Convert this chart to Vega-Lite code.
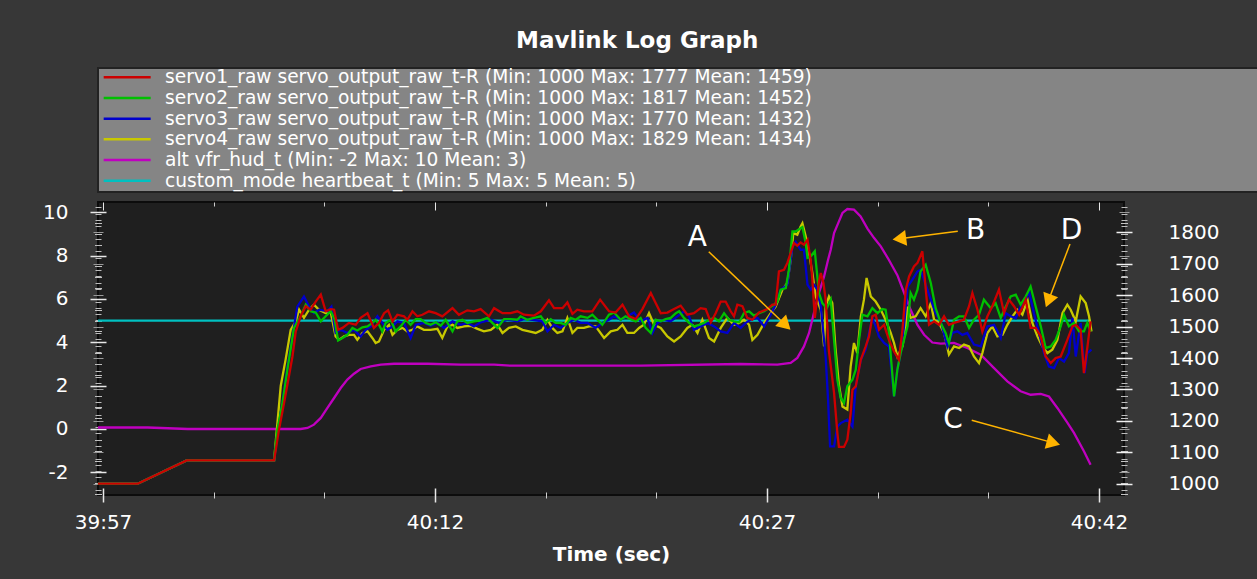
{
  "$schema": "https://vega.github.io/schema/vega-lite/v6.json",
  "background": "#373737",
  "autosize": {"type": "pad"},
  "padding": {"left": 41, "top": 30, "right": 0, "bottom": 14},
  "title": {
    "text": "Mavlink Log Graph",
    "color": "#ffffff",
    "font": "DejaVu Sans",
    "fontSize": 23,
    "fontWeight": "bold",
    "anchor": "middle",
    "dx": -13,
    "offset": -4,
    "baseline": "alphabetic"
  },
  "config": {
    "font": "DejaVu Sans",
    "view": {"stroke": null},
    "axis": {
      "grid": false,
      "domain": false,
      "labelColor": "#ffffff",
      "titleColor": "#ffffff",
      "labelFont": "DejaVu Sans",
      "titleFont": "DejaVu Sans",
      "tickColor": "#d8d8d8"
    }
  },
  "bounds": "flush",
  "spacing": 10,
  "datasets": {
    "series": [
      {"name": "servo1_raw servo_output_raw_t-R (Min: 1000 Max: 1777 Mean: 1459)"},
      {"name": "servo2_raw servo_output_raw_t-R (Min: 1000 Max: 1817 Mean: 1452)"},
      {"name": "servo3_raw servo_output_raw_t-R (Min: 1000 Max: 1770 Mean: 1432)"},
      {"name": "servo4_raw servo_output_raw_t-R (Min: 1000 Max: 1829 Mean: 1434)"},
      {"name": "alt vfr_hud_t (Min: -2 Max: 10 Mean: 3)"},
      {"name": "custom_mode heartbeat_t (Min: 5 Max: 5 Mean: 5)"}
    ],
    "servo1": [
      {"sec":-0.23,"pwm":1000},{"sec":1.57,"pwm":1000},{"sec":3.78,"pwm":1074},{"sec":7.73,"pwm":1074},
      {"sec":7.95,"pwm":1172},{"sec":8.18,"pwm":1257},{"sec":8.40,"pwm":1342},{"sec":8.56,"pwm":1405},
      {"sec":8.71,"pwm":1485},{"sec":8.93,"pwm":1533},{"sec":9.16,"pwm":1565},{"sec":9.38,"pwm":1554},
      {"sec":9.61,"pwm":1580},{"sec":9.84,"pwm":1602},{"sec":10.06,"pwm":1549},{"sec":10.29,"pwm":1556},
      {"sec":10.44,"pwm":1554},{"sec":10.62,"pwm":1490},{"sec":10.82,"pwm":1496},{"sec":11.11,"pwm":1512},
      {"sec":11.42,"pwm":1506},{"sec":11.64,"pwm":1528},{"sec":11.95,"pwm":1543},{"sec":12.24,"pwm":1496},
      {"sec":12.47,"pwm":1512},{"sec":12.70,"pwm":1543},{"sec":12.88,"pwm":1552},{"sec":13.08,"pwm":1517},
      {"sec":13.30,"pwm":1538},{"sec":13.60,"pwm":1533},{"sec":13.75,"pwm":1522},{"sec":13.98,"pwm":1549},
      {"sec":14.20,"pwm":1533},{"sec":14.43,"pwm":1538},{"sec":14.73,"pwm":1549},{"sec":15.03,"pwm":1543},
      {"sec":15.33,"pwm":1533},{"sec":15.79,"pwm":1559},{"sec":16.08,"pwm":1538},{"sec":16.46,"pwm":1552},
      {"sec":16.76,"pwm":1549},{"sec":17.06,"pwm":1556},{"sec":17.44,"pwm":1533},{"sec":17.67,"pwm":1559},
      {"sec":18.05,"pwm":1543},{"sec":18.42,"pwm":1543},{"sec":18.72,"pwm":1549},{"sec":19.02,"pwm":1538},
      {"sec":19.47,"pwm":1535},{"sec":19.78,"pwm":1549},{"sec":20.15,"pwm":1584},{"sec":20.38,"pwm":1559},
      {"sec":20.76,"pwm":1559},{"sec":20.98,"pwm":1577},{"sec":21.21,"pwm":1541},{"sec":21.43,"pwm":1554},
      {"sec":21.73,"pwm":1549},{"sec":22.11,"pwm":1549},{"sec":22.46,"pwm":1586},{"sec":22.86,"pwm":1549},
      {"sec":23.16,"pwm":1545},{"sec":23.47,"pwm":1570},{"sec":23.77,"pwm":1533},{"sec":24.07,"pwm":1524},
      {"sec":24.37,"pwm":1556},{"sec":24.75,"pwm":1607},{"sec":24.97,"pwm":1575},{"sec":25.20,"pwm":1543},
      {"sec":25.50,"pwm":1545},{"sec":25.80,"pwm":1556},{"sec":26.10,"pwm":1567},{"sec":26.40,"pwm":1538},
      {"sec":26.70,"pwm":1543},{"sec":27.00,"pwm":1559},{"sec":27.23,"pwm":1556},{"sec":27.46,"pwm":1514},
      {"sec":27.68,"pwm":1543},{"sec":27.91,"pwm":1580},{"sec":28.13,"pwm":1580},{"sec":28.36,"pwm":1549},
      {"sec":28.51,"pwm":1533},{"sec":28.66,"pwm":1570},{"sec":28.89,"pwm":1565},{"sec":29.11,"pwm":1528},
      {"sec":29.34,"pwm":1522},{"sec":29.64,"pwm":1545},{"sec":30.02,"pwm":1556},{"sec":30.24,"pwm":1570},
      {"sec":30.39,"pwm":1570},{"sec":30.54,"pwm":1676},{"sec":30.77,"pwm":1681},{"sec":30.92,"pwm":1703},
      {"sec":31.07,"pwm":1735},{"sec":31.22,"pwm":1766},{"sec":31.37,"pwm":1758},{"sec":31.52,"pwm":1768},
      {"sec":31.67,"pwm":1761},{"sec":31.83,"pwm":1777},{"sec":31.98,"pwm":1708},{"sec":32.05,"pwm":1650},
      {"sec":32.16,"pwm":1528},{"sec":32.35,"pwm":1644},{"sec":32.43,"pwm":1671},{"sec":32.55,"pwm":1639},
      {"sec":32.65,"pwm":1586},{"sec":32.80,"pwm":1421},{"sec":33.03,"pwm":1289},{"sec":33.18,"pwm":1161},
      {"sec":33.25,"pwm":1117},{"sec":33.48,"pwm":1117},{"sec":33.63,"pwm":1140},{"sec":33.78,"pwm":1225},
      {"sec":33.86,"pwm":1299},{"sec":34.01,"pwm":1310},{"sec":34.24,"pwm":1395},{"sec":34.46,"pwm":1437},
      {"sec":34.61,"pwm":1469},{"sec":34.76,"pwm":1533},{"sec":34.91,"pwm":1538},{"sec":35.06,"pwm":1490},
      {"sec":35.29,"pwm":1506},{"sec":35.51,"pwm":1458},{"sec":35.74,"pwm":1421},{"sec":35.96,"pwm":1395},
      {"sec":36.12,"pwm":1490},{"sec":36.27,"pwm":1618},{"sec":36.42,"pwm":1660},{"sec":36.64,"pwm":1692},
      {"sec":36.80,"pwm":1703},{"sec":37.02,"pwm":1740},{"sec":37.10,"pwm":1676},{"sec":37.32,"pwm":1506},
      {"sec":37.55,"pwm":1517},{"sec":37.77,"pwm":1506},{"sec":38.00,"pwm":1533},{"sec":38.22,"pwm":1506},
      {"sec":38.45,"pwm":1512},{"sec":38.68,"pwm":1517},{"sec":38.90,"pwm":1522},{"sec":39.13,"pwm":1565},
      {"sec":39.28,"pwm":1607},{"sec":39.51,"pwm":1554},{"sec":39.73,"pwm":1485},{"sec":39.96,"pwm":1533},
      {"sec":40.18,"pwm":1565},{"sec":40.48,"pwm":1618},{"sec":40.71,"pwm":1543},{"sec":40.93,"pwm":1586},
      {"sec":41.16,"pwm":1565},{"sec":41.39,"pwm":1538},{"sec":41.69,"pwm":1586},{"sec":41.91,"pwm":1496},
      {"sec":42.14,"pwm":1496},{"sec":42.37,"pwm":1469},{"sec":42.59,"pwm":1405},{"sec":42.82,"pwm":1384},
      {"sec":43.04,"pwm":1400},{"sec":43.27,"pwm":1405},{"sec":43.57,"pwm":1458},{"sec":43.80,"pwm":1501},
      {"sec":43.95,"pwm":1506},{"sec":44.17,"pwm":1490},{"sec":44.32,"pwm":1352},{"sec":44.47,"pwm":1432},
      {"sec":44.62,"pwm":1517}
    ],
    "servo2": [
      {"sec":-0.23,"pwm":1000},{"sec":1.57,"pwm":1000},{"sec":3.78,"pwm":1074},{"sec":7.73,"pwm":1074},
      {"sec":7.88,"pwm":1172},{"sec":8.11,"pwm":1257},{"sec":8.33,"pwm":1363},{"sec":8.63,"pwm":1496},
      {"sec":8.93,"pwm":1533},{"sec":9.16,"pwm":1570},{"sec":9.38,"pwm":1549},{"sec":9.61,"pwm":1545},
      {"sec":9.84,"pwm":1517},{"sec":10.06,"pwm":1533},{"sec":10.29,"pwm":1549},{"sec":10.47,"pwm":1522},
      {"sec":10.62,"pwm":1456},{"sec":10.82,"pwm":1464},{"sec":11.04,"pwm":1474},{"sec":11.27,"pwm":1496},
      {"sec":11.49,"pwm":1488},{"sec":11.72,"pwm":1498},{"sec":11.95,"pwm":1501},{"sec":12.17,"pwm":1512},
      {"sec":12.32,"pwm":1522},{"sec":12.47,"pwm":1506},{"sec":12.62,"pwm":1485},{"sec":12.77,"pwm":1512},
      {"sec":13.00,"pwm":1522},{"sec":13.22,"pwm":1485},{"sec":13.45,"pwm":1501},{"sec":13.68,"pwm":1522},
      {"sec":13.90,"pwm":1506},{"sec":14.13,"pwm":1524},{"sec":14.35,"pwm":1524},{"sec":14.58,"pwm":1512},
      {"sec":14.80,"pwm":1506},{"sec":15.03,"pwm":1514},{"sec":15.26,"pwm":1503},{"sec":15.48,"pwm":1522},
      {"sec":15.79,"pwm":1485},{"sec":16.01,"pwm":1517},{"sec":16.24,"pwm":1522},{"sec":16.46,"pwm":1512},
      {"sec":16.76,"pwm":1517},{"sec":17.06,"pwm":1520},{"sec":17.37,"pwm":1528},{"sec":17.59,"pwm":1512},
      {"sec":17.82,"pwm":1496},{"sec":18.12,"pwm":1524},{"sec":18.42,"pwm":1524},{"sec":18.72,"pwm":1522},
      {"sec":18.87,"pwm":1533},{"sec":19.17,"pwm":1522},{"sec":19.47,"pwm":1528},{"sec":19.78,"pwm":1533},
      {"sec":20.00,"pwm":1512},{"sec":20.23,"pwm":1524},{"sec":20.45,"pwm":1512},{"sec":20.68,"pwm":1512},
      {"sec":20.91,"pwm":1506},{"sec":21.13,"pwm":1528},{"sec":21.36,"pwm":1522},{"sec":21.58,"pwm":1533},
      {"sec":21.89,"pwm":1528},{"sec":22.11,"pwm":1538},{"sec":22.34,"pwm":1522},{"sec":22.56,"pwm":1506},
      {"sec":22.86,"pwm":1538},{"sec":23.09,"pwm":1545},{"sec":23.39,"pwm":1522},{"sec":23.61,"pwm":1533},
      {"sec":23.84,"pwm":1524},{"sec":24.07,"pwm":1517},{"sec":24.29,"pwm":1528},{"sec":24.52,"pwm":1496},
      {"sec":24.75,"pwm":1480},{"sec":24.97,"pwm":1522},{"sec":25.20,"pwm":1517},{"sec":25.42,"pwm":1524},
      {"sec":25.65,"pwm":1528},{"sec":25.88,"pwm":1543},{"sec":26.03,"pwm":1549},{"sec":26.25,"pwm":1528},
      {"sec":26.48,"pwm":1512},{"sec":26.70,"pwm":1501},{"sec":26.93,"pwm":1506},{"sec":27.15,"pwm":1512},
      {"sec":27.38,"pwm":1522},{"sec":27.61,"pwm":1528},{"sec":27.83,"pwm":1517},{"sec":28.06,"pwm":1543},
      {"sec":28.28,"pwm":1522},{"sec":28.51,"pwm":1517},{"sec":28.74,"pwm":1514},{"sec":28.96,"pwm":1543},
      {"sec":29.19,"pwm":1549},{"sec":29.41,"pwm":1535},{"sec":29.64,"pwm":1543},{"sec":29.87,"pwm":1549},
      {"sec":30.09,"pwm":1559},{"sec":30.32,"pwm":1570},{"sec":30.47,"pwm":1580},{"sec":30.62,"pwm":1618},
      {"sec":30.85,"pwm":1623},{"sec":30.99,"pwm":1681},{"sec":31.15,"pwm":1803},{"sec":31.30,"pwm":1803},
      {"sec":31.45,"pwm":1810},{"sec":31.60,"pwm":1817},{"sec":31.75,"pwm":1766},{"sec":31.83,"pwm":1719},
      {"sec":31.98,"pwm":1724},{"sec":32.16,"pwm":1740},{"sec":32.35,"pwm":1607},{"sec":32.50,"pwm":1575},
      {"sec":32.70,"pwm":1559},{"sec":32.88,"pwm":1586},{"sec":33.03,"pwm":1458},{"sec":33.18,"pwm":1331},
      {"sec":33.33,"pwm":1273},{"sec":33.48,"pwm":1257},{"sec":33.63,"pwm":1310},{"sec":33.86,"pwm":1331},
      {"sec":34.01,"pwm":1363},{"sec":34.16,"pwm":1458},{"sec":34.31,"pwm":1538},{"sec":34.54,"pwm":1533},
      {"sec":34.76,"pwm":1559},{"sec":34.99,"pwm":1543},{"sec":35.21,"pwm":1556},{"sec":35.36,"pwm":1554},
      {"sec":35.51,"pwm":1480},{"sec":35.67,"pwm":1342},{"sec":35.74,"pwm":1278},{"sec":35.89,"pwm":1363},
      {"sec":36.04,"pwm":1416},{"sec":36.19,"pwm":1458},{"sec":36.35,"pwm":1501},{"sec":36.49,"pwm":1607},
      {"sec":36.64,"pwm":1586},{"sec":36.80,"pwm":1618},{"sec":36.94,"pwm":1676},{"sec":37.17,"pwm":1697},
      {"sec":37.40,"pwm":1639},{"sec":37.62,"pwm":1559},{"sec":37.85,"pwm":1512},{"sec":38.07,"pwm":1480},
      {"sec":38.22,"pwm":1448},{"sec":38.45,"pwm":1522},{"sec":38.68,"pwm":1533},{"sec":38.90,"pwm":1533},
      {"sec":39.13,"pwm":1496},{"sec":39.35,"pwm":1522},{"sec":39.58,"pwm":1538},{"sec":39.80,"pwm":1586},
      {"sec":40.11,"pwm":1559},{"sec":40.33,"pwm":1575},{"sec":40.56,"pwm":1528},{"sec":40.79,"pwm":1564},
      {"sec":41.01,"pwm":1596},{"sec":41.24,"pwm":1602},{"sec":41.46,"pwm":1570},{"sec":41.69,"pwm":1596},
      {"sec":41.91,"pwm":1628},{"sec":42.14,"pwm":1564},{"sec":42.37,"pwm":1501},{"sec":42.59,"pwm":1432},
      {"sec":42.82,"pwm":1437},{"sec":43.04,"pwm":1458},{"sec":43.27,"pwm":1501},{"sec":43.42,"pwm":1538},
      {"sec":43.64,"pwm":1501},{"sec":43.87,"pwm":1512},{"sec":44.10,"pwm":1485},{"sec":44.32,"pwm":1485},
      {"sec":44.47,"pwm":1512},{"sec":44.62,"pwm":1485}
    ],
    "servo3": [
      {"sec":-0.23,"pwm":1000},{"sec":1.57,"pwm":1000},{"sec":3.78,"pwm":1074},{"sec":7.73,"pwm":1074},
      {"sec":7.88,"pwm":1160},{"sec":8.11,"pwm":1260},{"sec":8.33,"pwm":1370},{"sec":8.56,"pwm":1469},
      {"sec":8.78,"pwm":1564},{"sec":9.08,"pwm":1596},{"sec":9.31,"pwm":1564},{"sec":9.53,"pwm":1543},
      {"sec":9.76,"pwm":1554},{"sec":10.14,"pwm":1549},{"sec":10.32,"pwm":1564},{"sec":10.51,"pwm":1480},
      {"sec":10.74,"pwm":1490},{"sec":11.04,"pwm":1480},{"sec":11.34,"pwm":1490},{"sec":11.64,"pwm":1469},
      {"sec":11.87,"pwm":1490},{"sec":12.10,"pwm":1501},{"sec":12.40,"pwm":1533},{"sec":12.62,"pwm":1512},
      {"sec":12.85,"pwm":1490},{"sec":13.08,"pwm":1501},{"sec":13.30,"pwm":1517},{"sec":13.60,"pwm":1512},
      {"sec":13.90,"pwm":1464},{"sec":14.13,"pwm":1506},{"sec":14.50,"pwm":1512},{"sec":14.80,"pwm":1503},
      {"sec":15.11,"pwm":1512},{"sec":15.41,"pwm":1496},{"sec":15.79,"pwm":1517},{"sec":16.16,"pwm":1506},
      {"sec":16.46,"pwm":1512},{"sec":16.76,"pwm":1501},{"sec":17.06,"pwm":1514},{"sec":17.52,"pwm":1522},
      {"sec":17.89,"pwm":1512},{"sec":18.27,"pwm":1522},{"sec":18.72,"pwm":1517},{"sec":19.02,"pwm":1524},
      {"sec":19.40,"pwm":1522},{"sec":19.85,"pwm":1517},{"sec":20.08,"pwm":1485},{"sec":20.38,"pwm":1506},
      {"sec":20.68,"pwm":1496},{"sec":20.98,"pwm":1512},{"sec":21.28,"pwm":1522},{"sec":21.58,"pwm":1512},
      {"sec":21.89,"pwm":1512},{"sec":22.26,"pwm":1496},{"sec":22.56,"pwm":1512},{"sec":22.86,"pwm":1522},
      {"sec":23.09,"pwm":1533},{"sec":23.39,"pwm":1522},{"sec":23.69,"pwm":1533},{"sec":23.99,"pwm":1545},
      {"sec":24.29,"pwm":1517},{"sec":24.60,"pwm":1528},{"sec":24.82,"pwm":1480},{"sec":25.05,"pwm":1512},
      {"sec":25.35,"pwm":1522},{"sec":25.65,"pwm":1517},{"sec":25.95,"pwm":1533},{"sec":26.25,"pwm":1549},
      {"sec":26.48,"pwm":1533},{"sec":26.70,"pwm":1490},{"sec":27.00,"pwm":1501},{"sec":27.31,"pwm":1512},
      {"sec":27.61,"pwm":1501},{"sec":27.91,"pwm":1485},{"sec":28.21,"pwm":1480},{"sec":28.51,"pwm":1512},
      {"sec":28.81,"pwm":1496},{"sec":29.04,"pwm":1512},{"sec":29.26,"pwm":1522},{"sec":29.57,"pwm":1528},
      {"sec":29.87,"pwm":1501},{"sec":30.17,"pwm":1538},{"sec":30.39,"pwm":1570},{"sec":30.62,"pwm":1618},
      {"sec":30.92,"pwm":1634},{"sec":31.15,"pwm":1755},{"sec":31.30,"pwm":1770},{"sec":31.52,"pwm":1745},
      {"sec":31.67,"pwm":1745},{"sec":31.83,"pwm":1634},{"sec":31.98,"pwm":1618},{"sec":32.12,"pwm":1634},
      {"sec":32.28,"pwm":1618},{"sec":32.43,"pwm":1564},{"sec":32.65,"pwm":1405},{"sec":32.76,"pwm":1267},
      {"sec":32.85,"pwm":1119},{"sec":33.03,"pwm":1119},{"sec":33.18,"pwm":1182},{"sec":33.33,"pwm":1193},
      {"sec":33.63,"pwm":1204},{"sec":33.86,"pwm":1182},{"sec":34.01,"pwm":1310},{"sec":34.24,"pwm":1395},
      {"sec":34.46,"pwm":1427},{"sec":34.61,"pwm":1480},{"sec":34.76,"pwm":1528},{"sec":34.91,"pwm":1501},
      {"sec":35.06,"pwm":1469},{"sec":35.29,"pwm":1448},{"sec":35.51,"pwm":1437},{"sec":35.74,"pwm":1278},
      {"sec":35.89,"pwm":1363},{"sec":36.04,"pwm":1416},{"sec":36.19,"pwm":1501},{"sec":36.35,"pwm":1628},
      {"sec":36.57,"pwm":1650},{"sec":36.80,"pwm":1676},{"sec":36.94,"pwm":1681},{"sec":37.17,"pwm":1634},
      {"sec":37.40,"pwm":1586},{"sec":37.62,"pwm":1543},{"sec":37.85,"pwm":1517},{"sec":38.15,"pwm":1437},
      {"sec":38.38,"pwm":1480},{"sec":38.60,"pwm":1485},{"sec":38.83,"pwm":1474},{"sec":39.05,"pwm":1480},
      {"sec":39.35,"pwm":1443},{"sec":39.66,"pwm":1437},{"sec":39.96,"pwm":1501},{"sec":40.26,"pwm":1506},
      {"sec":40.56,"pwm":1464},{"sec":40.79,"pwm":1543},{"sec":41.01,"pwm":1533},{"sec":41.24,"pwm":1527},
      {"sec":41.46,"pwm":1564},{"sec":41.69,"pwm":1586},{"sec":41.84,"pwm":1612},{"sec":42.06,"pwm":1543},
      {"sec":42.29,"pwm":1480},{"sec":42.52,"pwm":1416},{"sec":42.74,"pwm":1373},{"sec":42.97,"pwm":1368},
      {"sec":43.19,"pwm":1400},{"sec":43.42,"pwm":1389},{"sec":43.64,"pwm":1416},{"sec":43.80,"pwm":1528},
      {"sec":43.95,"pwm":1405},{"sec":44.17,"pwm":1512},{"sec":44.35,"pwm":1352},{"sec":44.47,"pwm":1416},
      {"sec":44.66,"pwm":1427}
    ],
    "servo4": [
      {"sec":-0.23,"pwm":1000},{"sec":1.57,"pwm":1000},{"sec":3.78,"pwm":1074},{"sec":7.73,"pwm":1074},
      {"sec":8.03,"pwm":1311},{"sec":8.25,"pwm":1395},{"sec":8.48,"pwm":1490},{"sec":8.71,"pwm":1517},
      {"sec":8.86,"pwm":1554},{"sec":9.08,"pwm":1528},{"sec":9.31,"pwm":1554},{"sec":9.53,"pwm":1570},
      {"sec":9.76,"pwm":1554},{"sec":10.06,"pwm":1543},{"sec":10.29,"pwm":1545},{"sec":10.51,"pwm":1469},
      {"sec":10.66,"pwm":1458},{"sec":10.89,"pwm":1469},{"sec":11.11,"pwm":1474},{"sec":11.34,"pwm":1474},
      {"sec":11.49,"pwm":1458},{"sec":11.72,"pwm":1480},{"sec":11.95,"pwm":1485},{"sec":12.17,"pwm":1464},
      {"sec":12.32,"pwm":1448},{"sec":12.47,"pwm":1453},{"sec":12.70,"pwm":1490},{"sec":12.92,"pwm":1506},
      {"sec":13.08,"pwm":1474},{"sec":13.30,"pwm":1490},{"sec":13.53,"pwm":1496},{"sec":13.75,"pwm":1485},
      {"sec":13.98,"pwm":1490},{"sec":14.20,"pwm":1501},{"sec":14.50,"pwm":1490},{"sec":14.80,"pwm":1490},
      {"sec":15.11,"pwm":1493},{"sec":15.33,"pwm":1464},{"sec":15.56,"pwm":1501},{"sec":15.79,"pwm":1506},
      {"sec":16.01,"pwm":1496},{"sec":16.31,"pwm":1501},{"sec":16.61,"pwm":1503},{"sec":16.92,"pwm":1493},
      {"sec":17.21,"pwm":1485},{"sec":17.52,"pwm":1490},{"sec":17.82,"pwm":1506},{"sec":18.05,"pwm":1480},
      {"sec":18.34,"pwm":1496},{"sec":18.65,"pwm":1501},{"sec":18.95,"pwm":1490},{"sec":19.25,"pwm":1485},
      {"sec":19.55,"pwm":1480},{"sec":19.85,"pwm":1490},{"sec":20.08,"pwm":1522},{"sec":20.30,"pwm":1496},
      {"sec":20.53,"pwm":1480},{"sec":20.76,"pwm":1485},{"sec":20.98,"pwm":1528},{"sec":21.21,"pwm":1480},
      {"sec":21.43,"pwm":1496},{"sec":21.73,"pwm":1496},{"sec":21.96,"pwm":1501},{"sec":22.26,"pwm":1501},
      {"sec":22.64,"pwm":1464},{"sec":22.94,"pwm":1485},{"sec":23.24,"pwm":1490},{"sec":23.47,"pwm":1506},
      {"sec":23.69,"pwm":1480},{"sec":23.99,"pwm":1480},{"sec":24.22,"pwm":1496},{"sec":24.44,"pwm":1506},
      {"sec":24.67,"pwm":1543},{"sec":24.90,"pwm":1506},{"sec":25.20,"pwm":1496},{"sec":25.50,"pwm":1469},
      {"sec":25.80,"pwm":1453},{"sec":26.10,"pwm":1469},{"sec":26.40,"pwm":1496},{"sec":26.63,"pwm":1506},
      {"sec":26.86,"pwm":1480},{"sec":27.08,"pwm":1522},{"sec":27.38,"pwm":1464},{"sec":27.61,"pwm":1453},
      {"sec":27.91,"pwm":1496},{"sec":28.21,"pwm":1528},{"sec":28.51,"pwm":1506},{"sec":28.74,"pwm":1512},
      {"sec":28.96,"pwm":1522},{"sec":29.19,"pwm":1506},{"sec":29.34,"pwm":1458},{"sec":29.57,"pwm":1474},
      {"sec":29.87,"pwm":1512},{"sec":30.17,"pwm":1543},{"sec":30.39,"pwm":1564},{"sec":30.70,"pwm":1618},
      {"sec":30.92,"pwm":1639},{"sec":31.07,"pwm":1713},{"sec":31.19,"pwm":1798},{"sec":31.37,"pwm":1793},
      {"sec":31.52,"pwm":1819},{"sec":31.60,"pwm":1829},{"sec":31.75,"pwm":1787},{"sec":31.90,"pwm":1734},
      {"sec":32.05,"pwm":1671},{"sec":32.20,"pwm":1596},{"sec":32.43,"pwm":1554},{"sec":32.58,"pwm":1437},
      {"sec":32.65,"pwm":1564},{"sec":32.80,"pwm":1596},{"sec":32.95,"pwm":1575},{"sec":33.10,"pwm":1427},
      {"sec":33.25,"pwm":1315},{"sec":33.41,"pwm":1246},{"sec":33.63,"pwm":1236},{"sec":33.78,"pwm":1373},
      {"sec":33.93,"pwm":1448},{"sec":34.08,"pwm":1416},{"sec":34.24,"pwm":1533},{"sec":34.38,"pwm":1586},
      {"sec":34.50,"pwm":1655},{"sec":34.69,"pwm":1596},{"sec":34.91,"pwm":1580},{"sec":35.14,"pwm":1554},
      {"sec":35.36,"pwm":1522},{"sec":35.59,"pwm":1480},{"sec":35.74,"pwm":1448},{"sec":35.89,"pwm":1405},
      {"sec":36.12,"pwm":1437},{"sec":36.27,"pwm":1501},{"sec":36.35,"pwm":1564},{"sec":36.49,"pwm":1528},
      {"sec":36.72,"pwm":1533},{"sec":36.94,"pwm":1559},{"sec":37.17,"pwm":1533},{"sec":37.40,"pwm":1575},
      {"sec":37.55,"pwm":1522},{"sec":37.77,"pwm":1512},{"sec":38.00,"pwm":1480},{"sec":38.22,"pwm":1411},
      {"sec":38.45,"pwm":1437},{"sec":38.68,"pwm":1432},{"sec":38.90,"pwm":1443},{"sec":39.13,"pwm":1437},
      {"sec":39.35,"pwm":1405},{"sec":39.58,"pwm":1384},{"sec":39.73,"pwm":1416},{"sec":39.96,"pwm":1480},
      {"sec":40.18,"pwm":1501},{"sec":40.41,"pwm":1469},{"sec":40.64,"pwm":1474},{"sec":40.86,"pwm":1506},
      {"sec":41.09,"pwm":1533},{"sec":41.31,"pwm":1554},{"sec":41.54,"pwm":1538},{"sec":41.77,"pwm":1586},
      {"sec":41.99,"pwm":1512},{"sec":42.22,"pwm":1469},{"sec":42.44,"pwm":1437},{"sec":42.67,"pwm":1416},
      {"sec":42.89,"pwm":1427},{"sec":43.12,"pwm":1458},{"sec":43.35,"pwm":1543},{"sec":43.57,"pwm":1570},
      {"sec":43.72,"pwm":1554},{"sec":43.95,"pwm":1517},{"sec":44.17,"pwm":1596},{"sec":44.40,"pwm":1575},
      {"sec":44.55,"pwm":1533},{"sec":44.66,"pwm":1485}
    ],
    "alt": [
      {"sec":-0.23,"alt":0.07},{"sec":2.02,"alt":0.07},{"sec":3.83,"alt":0.0},{"sec":8.93,"alt":0.0},
      {"sec":9.24,"alt":0.05},{"sec":9.53,"alt":0.2},{"sec":9.84,"alt":0.51},{"sec":10.14,"alt":0.97},
      {"sec":10.44,"alt":1.43},{"sec":10.74,"alt":1.89},{"sec":11.04,"alt":2.28},{"sec":11.34,"alt":2.55},
      {"sec":11.64,"alt":2.77},{"sec":12.10,"alt":2.89},{"sec":12.55,"alt":2.97},{"sec":13.15,"alt":3.01},
      {"sec":14.66,"alt":3.01},{"sec":16.16,"alt":2.97},{"sec":17.67,"alt":2.97},{"sec":18.42,"alt":2.92},
      {"sec":20.68,"alt":2.92},{"sec":24.30,"alt":2.92},{"sec":28.81,"alt":3.0},{"sec":30.47,"alt":2.97},
      {"sec":31.07,"alt":3.05},{"sec":31.37,"alt":3.28},{"sec":31.67,"alt":3.81},{"sec":31.90,"alt":4.43},
      {"sec":32.12,"alt":5.35},{"sec":32.35,"alt":6.28},{"sec":32.58,"alt":7.04},{"sec":32.76,"alt":7.81},
      {"sec":32.88,"alt":8.27},{"sec":33.03,"alt":9.04},{"sec":33.25,"alt":9.58},{"sec":33.41,"alt":9.97},
      {"sec":33.63,"alt":10.15},{"sec":33.93,"alt":10.12},{"sec":34.23,"alt":9.81},{"sec":34.54,"alt":9.25},
      {"sec":34.84,"alt":8.81},{"sec":35.14,"alt":8.43},{"sec":35.51,"alt":7.8},{"sec":35.89,"alt":7.1},
      {"sec":36.19,"alt":6.3},{"sec":36.49,"alt":5.5},{"sec":36.80,"alt":4.8},{"sec":37.10,"alt":4.35},
      {"sec":37.47,"alt":3.99},{"sec":37.85,"alt":3.94},{"sec":38.45,"alt":3.97},{"sec":39.05,"alt":3.74},
      {"sec":39.66,"alt":3.43},{"sec":40.26,"alt":2.81},{"sec":40.86,"alt":2.20},{"sec":41.46,"alt":1.74},
      {"sec":41.91,"alt":1.58},{"sec":42.37,"alt":1.62},{"sec":42.74,"alt":1.50},{"sec":43.12,"alt":0.97},
      {"sec":43.57,"alt":0.29},{"sec":43.87,"alt":-0.18},{"sec":44.32,"alt":-1.03},{"sec":44.62,"alt":-1.65}
    ],
    "mode": [
      {"sec":-0.23,"mode":5},{"sec":5,"mode":5},{"sec":10,"mode":5},{"sec":15,"mode":5},{"sec":20,"mode":5},
      {"sec":25,"mode":5},{"sec":30,"mode":5},{"sec":35,"mode":5},{"sec":40,"mode":5},{"sec":44.62,"mode":5}
    ],
    "notes": [
      {"label":"A","tx":26.85,"ty":8.83,"t0":27.37,"a0":8.18,"t1":30.84,"a1":4.80,"heading":43.6},
      {"label":"B","tx":39.42,"ty":9.14,"t0":38.62,"a0":9.12,"t1":35.98,"a1":8.78,"heading":172.8},
      {"label":"C","tx":38.41,"ty":0.43,"t0":39.25,"a0":0.40,"t1":42.94,"a1":-0.64,"heading":15.4},
      {"label":"D","tx":43.76,"ty":9.14,"t0":43.69,"a0":8.54,"t1":42.71,"a1":5.91,"heading":111.0}
    ]
  },
  "vconcat": [
    {
      "width": 1160,
      "height": 124,
      "view": {"fill": "#858585", "stroke": "#222222", "strokeWidth": 2},
      "data": {"name": "series"},
      "encoding": {
        "y": {"field": "name", "type": "nominal", "sort": null,
              "scale": {"type": "point", "padding": 0.5, "align": 0.45}, "axis": null}
      },
      "layer": [
        {
          "mark": {"type": "rule", "strokeWidth": 2.5},
          "encoding": {
            "x": {"datum": 0.0049, "type": "quantitative", "scale": {"domain": [0, 1], "nice": false, "zero": false}, "axis": null},
            "x2": {"datum": 0.0454},
            "color": {
              "field": "name", "type": "nominal", "legend": null,
              "scale": {
                "domain": [
                  "servo1_raw servo_output_raw_t-R (Min: 1000 Max: 1777 Mean: 1459)",
                  "servo2_raw servo_output_raw_t-R (Min: 1000 Max: 1817 Mean: 1452)",
                  "servo3_raw servo_output_raw_t-R (Min: 1000 Max: 1770 Mean: 1432)",
                  "servo4_raw servo_output_raw_t-R (Min: 1000 Max: 1829 Mean: 1434)",
                  "alt vfr_hud_t (Min: -2 Max: 10 Mean: 3)",
                  "custom_mode heartbeat_t (Min: 5 Max: 5 Mean: 5)"
                ],
                "range": ["#cc0000", "#00c000", "#0000cc", "#c8c800", "#c000c0", "#00c0c0"]
              }
            }
          }
        },
        {
          "mark": {"type": "text", "align": "left", "baseline": "middle", "fontSize": 18.6, "color": "#ffffff", "font": "DejaVu Sans"},
          "encoding": {
            "x": {"datum": 0.0578, "type": "quantitative"},
            "text": {"field": "name"}
          }
        }
      ]
    },
    {
      "width": 1026,
      "height": 293,
      "view": {"fill": "#1f1f1f", "stroke": "#0c0c0c", "strokeWidth": 2},
      "resolve": {"scale": {"y": "independent"}, "axis": {"x": "independent", "y": "independent"}},
      "layer": [
        {
          "mark": {"type": "rule", "color": "#080808", "strokeWidth": 1.5},
          "encoding": {
            "y": {"datum": 0, "type": "quantitative",
                  "scale": {"domain": [-3.046, 10.475], "nice": false, "zero": false},
                  "axis": {"orient": "left", "tickCount": 27, "tickSize": 7, "offset": -3.5, "labels": false, "title": null, "tickColor": "#c4c4c4"}}
          }
        },
        {
          "data": {"name": "mode"},
          "mark": {"type": "line", "color": "#00c0c0", "strokeWidth": 2.3},
          "encoding": {
            "x": {"field": "sec", "type": "quantitative",
                  "scale": {"domain": [-0.226, 46.13], "nice": false, "zero": false},
                  "axis": {"orient": "bottom", "values": [5, 10, 20, 25, 35, 40], "tickSize": 6, "offset": -3, "labels": false, "title": null, "tickColor": "#cfcfcf"}},
            "y": {"field": "mode", "type": "quantitative",
                  "scale": {"domain": [-3.046, 10.475], "nice": false, "zero": false},
                  "axis": {"orient": "right", "tickCount": 27, "tickSize": 7, "offset": -3.5, "labels": false, "title": null, "tickColor": "#c4c4c4"}}
          }
        },
        {
          "data": {"name": "alt"},
          "mark": {"type": "line", "color": "#c000c0", "strokeWidth": 2.3},
          "encoding": {
            "x": {"field": "sec", "type": "quantitative",
                  "scale": {"domain": [-0.226, 46.13], "nice": false, "zero": false},
                  "axis": {"orient": "bottom", "values": [0, 15, 30, 45], "tickSize": 14, "offset": -7, "tickWidth": 1.5, "tickColor": "#e8e8e8",
                           "labelPadding": 10, "labelFontSize": 20, "labelFlush": false, "labelOverlap": false,
                           "labelExpr": "floor((2397 + datum.value) / 60) + ':' + (((2397 + datum.value) % 60) < 10 ? '0' : '') + ((2397 + datum.value) % 60)",
                           "title": "Time (sec)", "titleFontSize": 20, "titleFontWeight": "bold", "titlePadding": 12}},
            "y": {"field": "alt", "type": "quantitative",
                  "scale": {"domain": [-3.046, 10.475], "nice": false, "zero": false},
                  "axis": {"orient": "left", "values": [-2, 0, 2, 4, 6, 8, 10], "tickSize": 16, "offset": -8, "tickWidth": 1.5, "tickColor": "#e8e8e8",
                           "labelPadding": 22, "labelFontSize": 20,
                           "labelExpr": "datum.value < 0 ? '-' + (-datum.value) : datum.label", "title": null}}
          }
        },
        {
          "data": {"name": "servo4"},
          "mark": {"type": "line", "color": "#c8c800", "strokeWidth": 2.3},
          "encoding": {
            "x": {"field": "sec", "type": "quantitative",
                  "scale": {"domain": [-0.226, 46.13], "nice": false, "zero": false},
                  "axis": {"orient": "top", "values": [0, 15, 30, 45], "tickSize": 8, "offset": -8, "labels": false, "title": null, "tickColor": "#e8e8e8"}},
            "y": {"field": "pwm", "type": "quantitative",
                  "scale": {"domain": [964, 1897], "nice": false, "zero": false},
                  "axis": {"orient": "left", "tickCount": 47, "tickSize": 6, "offset": -3, "labels": false, "title": null, "tickColor": "#bdbdbd"}}
          }
        },
        {
          "data": {"name": "servo3"},
          "mark": {"type": "line", "color": "#0000cc", "strokeWidth": 2.3},
          "encoding": {
            "x": {"field": "sec", "type": "quantitative",
                  "scale": {"domain": [-0.226, 46.13], "nice": false, "zero": false},
                  "axis": {"orient": "top", "values": [5, 10, 20, 25, 35, 40], "tickSize": 4, "offset": -4, "labels": false, "title": null, "tickColor": "#cfcfcf"}},
            "y": {"field": "pwm", "type": "quantitative",
                  "scale": {"domain": [964, 1897], "nice": false, "zero": false},
                  "axis": {"orient": "left", "values": [1000, 1100, 1200, 1300, 1400, 1500, 1600, 1700, 1800], "tickSize": 10, "offset": -5, "labels": false, "title": null, "tickColor": "#9a9a9a"}}
          }
        },
        {
          "data": {"name": "servo2"},
          "mark": {"type": "line", "color": "#00c000", "strokeWidth": 2.3},
          "encoding": {
            "x": {"field": "sec", "type": "quantitative",
                  "scale": {"domain": [-0.226, 46.13], "nice": false, "zero": false}, "axis": null},
            "y": {"field": "pwm", "type": "quantitative",
                  "scale": {"domain": [964, 1897], "nice": false, "zero": false},
                  "axis": {"orient": "right", "tickCount": 47, "tickSize": 6, "offset": -3, "labels": false, "title": null, "tickColor": "#bdbdbd"}}
          }
        },
        {
          "data": {"name": "servo1"},
          "mark": {"type": "line", "color": "#cc0000", "strokeWidth": 2.3},
          "encoding": {
            "x": {"field": "sec", "type": "quantitative",
                  "scale": {"domain": [-0.226, 46.13], "nice": false, "zero": false}, "axis": null},
            "y": {"field": "pwm", "type": "quantitative",
                  "scale": {"domain": [964, 1897], "nice": false, "zero": false},
                  "axis": {"orient": "right", "values": [1000, 1100, 1200, 1300, 1400, 1500, 1600, 1700, 1800], "tickSize": 16, "offset": -8, "tickWidth": 1.5, "tickColor": "#f0f0f0",
                           "labelPadding": 36, "labelFontSize": 20, "format": "d", "title": null}}
          }
        },
        {
          "data": {"name": "notes"},
          "mark": {"type": "rule", "color": "#ffb400", "strokeWidth": 1.5},
          "encoding": {
            "x": {"field": "t0", "type": "quantitative",
                  "scale": {"domain": [-0.226, 46.13], "nice": false, "zero": false}, "axis": null},
            "x2": {"field": "t1"},
            "y": {"field": "a0", "type": "quantitative",
                  "scale": {"domain": [-3.046, 10.475], "nice": false, "zero": false}, "axis": null},
            "y2": {"field": "a1"}
          }
        },
        {
          "data": {"name": "notes"},
          "mark": {"type": "point", "shape": "triangle-right", "filled": true, "color": "#ffb400", "opacity": 1, "size": 250},
          "encoding": {
            "x": {"field": "t1", "type": "quantitative",
                  "scale": {"domain": [-0.226, 46.13], "nice": false, "zero": false}, "axis": null},
            "y": {"field": "a1", "type": "quantitative",
                  "scale": {"domain": [-3.046, 10.475], "nice": false, "zero": false}, "axis": null},
            "angle": {"field": "heading", "type": "quantitative", "scale": null}
          }
        },
        {
          "data": {"name": "notes"},
          "mark": {"type": "text", "color": "#ffffff", "fontSize": 28, "align": "center", "baseline": "middle", "font": "DejaVu Sans"},
          "encoding": {
            "x": {"field": "tx", "type": "quantitative",
                  "scale": {"domain": [-0.226, 46.13], "nice": false, "zero": false}, "axis": null},
            "y": {"field": "ty", "type": "quantitative",
                  "scale": {"domain": [-3.046, 10.475], "nice": false, "zero": false},
                  "axis": {"orient": "right", "values": [-2, 0, 2, 4, 6, 8, 10], "tickSize": 10, "offset": -5, "labels": false, "title": null, "tickColor": "#9a9a9a"}},
            "text": {"field": "label"}
          }
        }
      ]
    }
  ]
}
